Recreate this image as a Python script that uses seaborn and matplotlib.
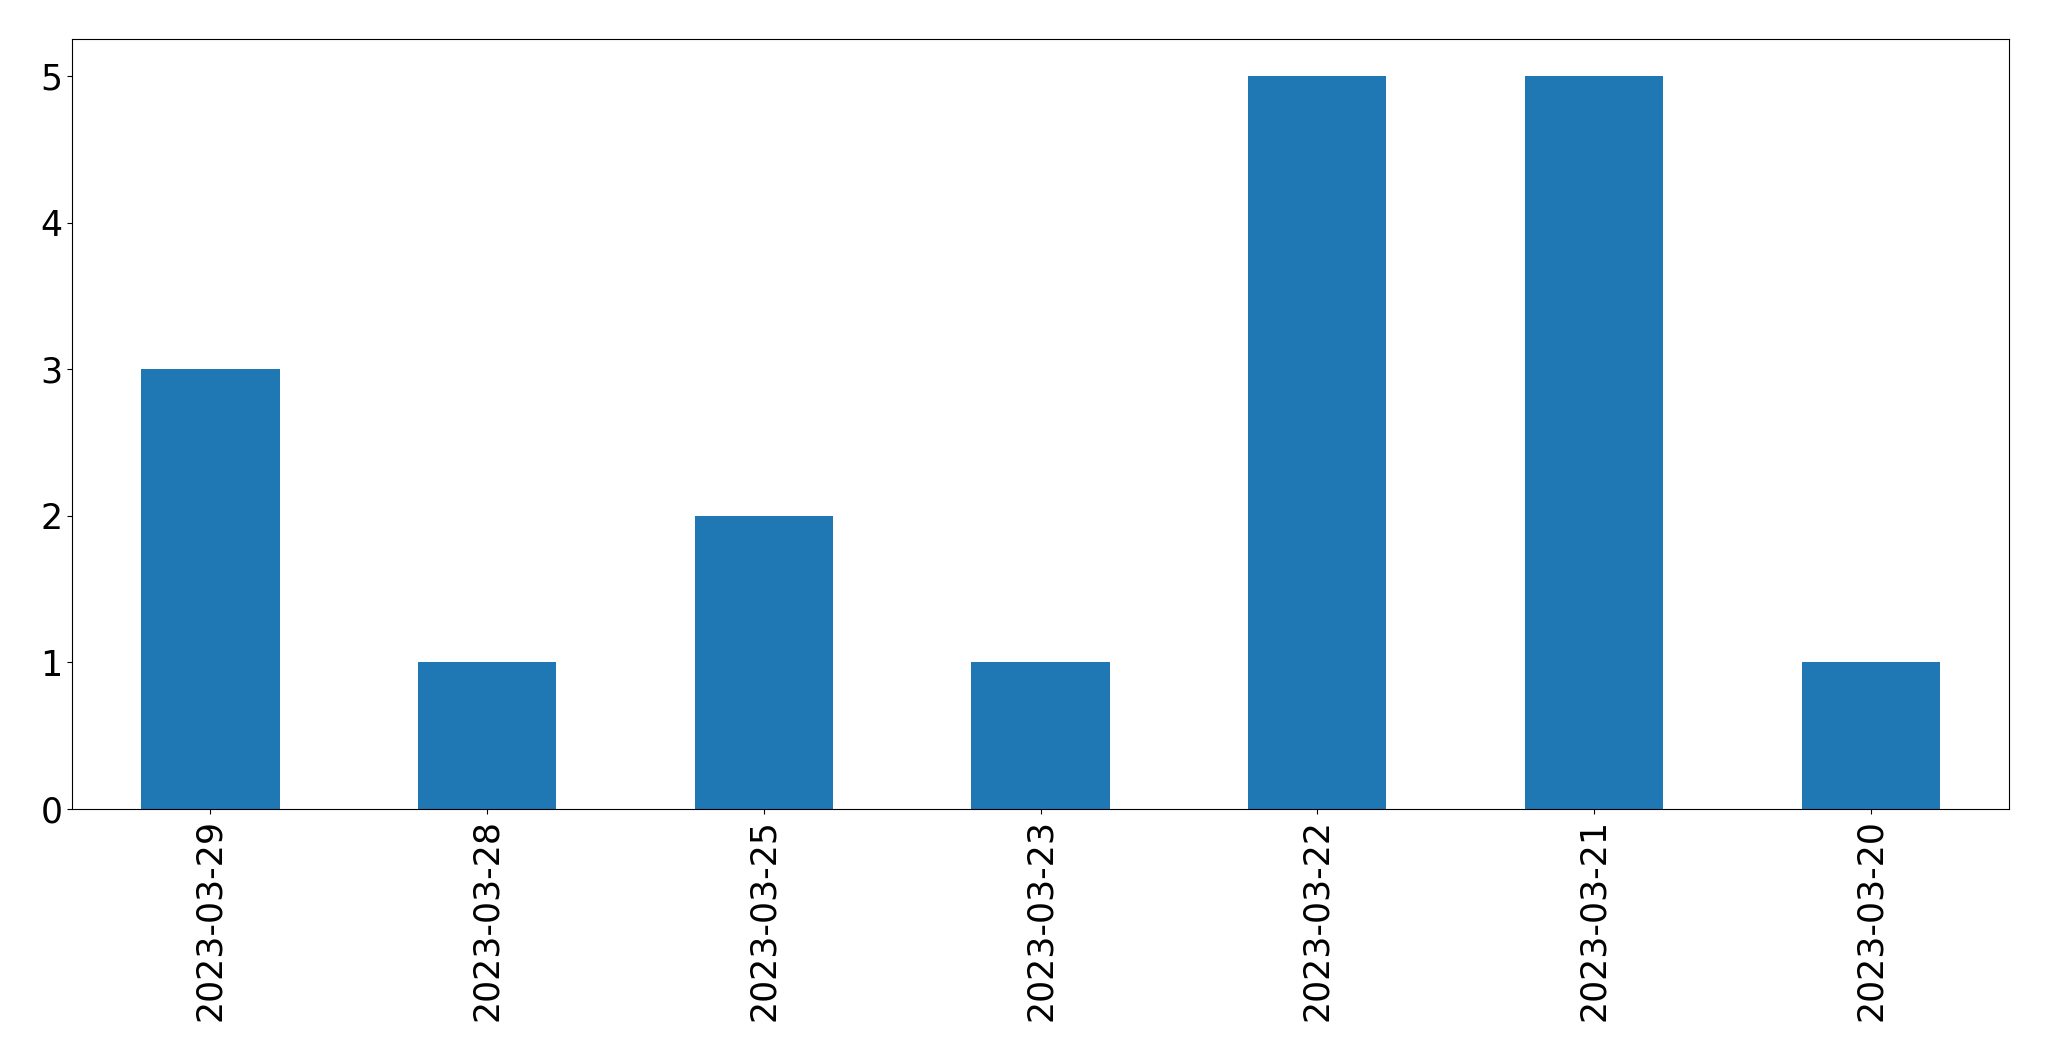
import pandas as pd
import matplotlib
matplotlib.use("Agg")
import matplotlib.pyplot as plt
import seaborn as sns

# Counts per date
dates = ["2023-03-29", "2023-03-28", "2023-03-25", "2023-03-23",
         "2023-03-22", "2023-03-21", "2023-03-20"]
counts = [3, 1, 2, 1, 5, 5, 1]

data = pd.DataFrame({"date": dates, "count": counts})

fig, ax = plt.subplots(figsize=(20.49, 10.61), dpi=100)

sns.barplot(x="date", y="count", data=data, color="#1f77b4",
            saturation=1, width=0.5, ax=ax)

ax.set_xlim(-0.5, len(dates) - 0.5)
ax.set_ylim(0, 5.25)
ax.set_xlabel("")
ax.set_ylabel("")
ax.tick_params(axis="both", labelsize=25)
plt.setp(ax.get_xticklabels(), rotation=90)

plt.subplots_adjust(left=0.0352, right=0.9805, top=0.963, bottom=0.2375)
plt.savefig("out.png", dpi=100)
